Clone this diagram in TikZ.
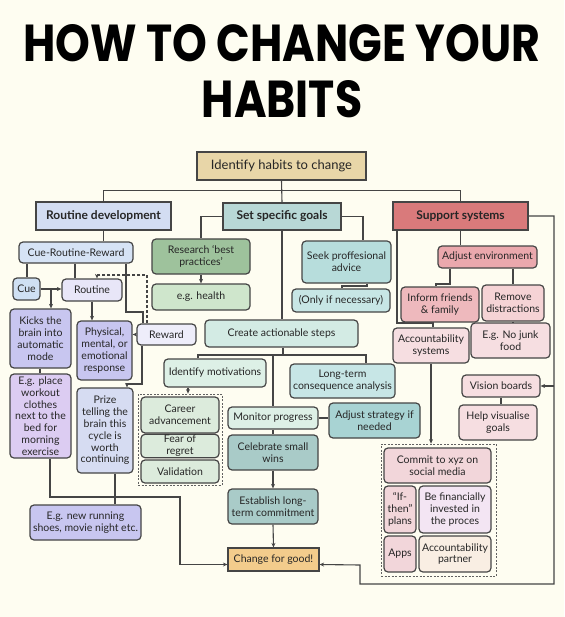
\documentclass[tikz,border=0pt]{standalone}
\usepackage{fontspec}
\setmainfont{Lato}
\newfontfamily\titlefont{Poppins}
\usetikzlibrary{arrows.meta,backgrounds}
\definecolor{bg}{HTML}{FEFDF1}
\definecolor{ln}{HTML}{454545}
\definecolor{cIdent}{HTML}{E8D6A8}
\definecolor{cRD}{HTML}{D3DDF2}
\definecolor{cSSG}{HTML}{B8D8D6}
\definecolor{cSup}{HTML}{D97A7B}
\definecolor{cCRR}{HTML}{D6E3F5}
\definecolor{cCue}{HTML}{CFE0F3}
\definecolor{cRoutine}{HTML}{E8E6F8}
\definecolor{cLav}{HTML}{C8C6F0}
\definecolor{cReward}{HTML}{EEEDFA}
\definecolor{cPrize}{HTML}{D6DCF2}
\definecolor{cPlace}{HTML}{DCCCF2}
\definecolor{cResearch}{HTML}{9EC29C}
\definecolor{cHealth}{HTML}{CFE6CC}
\definecolor{cSeek}{HTML}{B7DDDC}
\definecolor{cOnly}{HTML}{C7E6E5}
\definecolor{cCreate}{HTML}{D3EBE4}
\definecolor{cMint}{HTML}{DDF0E6}
\definecolor{cLong}{HTML}{C7E6E6}
\definecolor{cCareer}{HTML}{DCEBDC}
\definecolor{cAdjust}{HTML}{A8D3D3}
\definecolor{cCeleb}{HTML}{A9CBC8}
\definecolor{cChange}{HTML}{F3CC8C}
\definecolor{cAdjEnv}{HTML}{EAA8AD}
\definecolor{cInform}{HTML}{EEB9BD}
\definecolor{cRemove}{HTML}{F5D3D5}
\definecolor{cPinkL}{HTML}{F6DEE1}
\definecolor{cCommit}{HTML}{F2D6DA}
\definecolor{cFin}{HTML}{F3E5F3}
\definecolor{cPartner}{HTML}{F9EEE3}
\tikzset{
  box/.style={draw=ln, line width=1.2pt, rounded corners=4pt, align=center,
    inner sep=1pt, font=\fontsize{10.5}{11.8}\selectfont, text=black!85},
  hdr/.style={sharp corners, font=\bfseries\fontsize{12}{13}\selectfont},
  conn/.style={draw=ln, line width=1.1pt},
  arr/.style={conn, -{Stealth[length=4.5pt,width=4pt]}},
  grp/.style={draw=ln!85, line width=0.8pt, dash pattern=on 2pt off 1.5pt, rounded corners=0pt},
  ttl/.style={font=\titlefont\bfseries\fontsize{46}{50}\selectfont, anchor=base, inner sep=0pt}
}
\newcommand\bx[8][]{\node[box,fill=#7,minimum width={#5-#3},minimum height={#6-#4},#1] (#2) at ({(#3+#5)/2},{(#4+#6)/2}) {#8};}
\begin{document}
\begin{tikzpicture}[x=1pt,y=-1pt]
\useasboundingbox (0,0) rectangle (564,617);
% title
\node[ttl] (t1) at (282,62) {\scalebox{0.962}[1.13]{HOW TO CHANGE YOUR}};
\node[ttl] (t2) at (282,118) {\scalebox{0.962}[1.13]{HABITS}};
% headers
\bx[hdr]{ident}{197}{152}{366}{180}{cIdent}{\mdseries\fontsize{13}{14}\selectfont Identify habits to change}
\bx[hdr]{rd}{36}{202}{171}{230}{cRD}{Routine development}
\bx[hdr]{ssg}{223}{203}{341}{230}{cSSG}{Set specific goals}
\bx[hdr]{ss}{393}{202}{528}{230}{cSup}{Support systems}
% routine column
\bx{crr}{19}{242}{133}{263}{cCRR}{Cue-Routine-Reward}
\bx{cue}{13}{278}{40}{300}{cCue}{Cue}
\bx{routine}{62}{279}{122}{301}{cRoutine}{Routine}
\bx{kicks}{10}{309}{71}{368}{cLav}{Kicks the\\brain into\\automatic\\mode}
\bx{phys}{77}{321}{132}{380}{cLav}{Physical,\\mental, or\\emotional\\response}
\bx{reward}{137}{324}{196}{345}{cReward}{Reward}
\bx{place}{10}{374}{71}{458}{cPlace}{E.g. place\\workout\\clothes\\next to the\\bed for\\morning\\exercise}
\bx{prize}{77}{388}{133}{473}{cPrize}{Prize\\telling the\\brain this\\cycle is\\worth\\continuing}
\bx{run}{30}{505}{141}{540}{cLav}{E.g. new running\\shoes, movie night etc.}
% goals column
\bx{research}{152}{239}{250}{274}{cResearch}{Research ‘best\\practices’}
\bx{health}{152}{284}{250}{310}{cHealth}{e.g. health}
\bx{seek}{302}{241}{391}{283}{cSeek}{Seek proffesional\\advice}
\bx{only}{292}{289}{390}{312}{cOnly}{(Only if necessary)}
\bx{create}{205}{320}{358}{347}{cCreate}{Create actionable steps}
\bx{idmot}{164}{359}{266}{387}{cMint}{Identify motivations}
\bx{long}{290}{364}{395}{398}{cLong}{Long-term\\consequence analysis}
\node[grp, minimum width=84pt, minimum height=91pt] (grp1) at (180,439.5) {};
\bx{career}{141}{397}{219}{433}{cCareer}{Career\\advancement}
\bx{fear}{141}{435}{219}{457}{cCareer}{Fear of\\regret}
\bx{valid}{141}{460}{219}{483}{cCareer}{Validation}
\bx{monitor}{228}{407}{318}{429}{cMint}{Monitor progress}
\bx{adjust}{329}{403}{420}{438}{cAdjust}{Adjust strategy if\\needed}
\bx{celeb}{228}{435}{318}{470}{cCeleb}{Celebrate small\\wins}
\bx{estab}{228}{489}{318}{524}{cCeleb}{Establish long-\\term commitment}
\bx[hdr]{change}{228}{548}{319}{571}{cChange}{\mdseries\fontsize{10.5}{12}\selectfont Change for good!}
% support column
\bx{adjenv}{438}{246}{537}{268}{cAdjEnv}{Adjust environment}
\bx{inform}{401}{287}{479}{322}{cInform}{Inform friends\\\& family}
\bx{remove}{482}{285}{544}{321}{cRemove}{Remove\\distractions}
\bx{junk}{471}{323}{550}{358}{cPinkL}{E.g. No junk\\food}
\bx{accsys}{393}{328}{469}{363}{cPinkL}{Accountability\\systems}
\bx{vision}{462}{375}{540}{397}{cPinkL}{Vision boards}
\bx{help}{459}{405}{537}{440}{cPinkL}{Help visualise\\goals}
\node[grp, minimum width=115pt, minimum height=132pt] (grp2) at (438.5,510) {};
\bx{commit}{384}{448}{491}{483}{cCommit}{Commit to xyz on\\social media}
\bx{ifthen}{384}{486}{416}{533}{cCommit}{“If-\\then”\\plans}
\bx{fin}{419}{486}{491}{533}{cFin}{Be financially\\invested in\\the proces}
\bx{apps}{384}{536}{416}{572}{cCommit}{Apps}
\bx{partner}{419}{536}{491}{572}{cPartner}{Accountability\\partner}
\begin{pgfonlayer}{background}
\fill[bg] (0,0) rectangle (564,617);
% top
\draw[conn] (ident.south) -- (ssg.north);
\draw[conn] (rd.north) -- ++(0,-11) -| (ss.north);
% routine
\draw[conn] (rd.south) -- (rd.south |- crr.north);
\draw[conn] (27,0 |- crr.south) -- (27,0 |- cue.north);
\draw[conn] (75,0 |- crr.south) -- (75,0 |- routine.north);
\draw[arr] (cue.east) -- (cue.east -| routine.west);
\draw[arr] (51,0 |- cue.east) -- (51,0 |- kicks.north);
\draw[arr] (92,0 |- routine.south) -- (92,0 |- phys.north);
\draw[conn] (126,0 |- crr.south) |- (143,312) -- (143,0 |- reward.north);
\draw[arr, dash pattern=on 3pt off 2pt] (147,0 |- reward.north) |- (97,275) -- (97,0 |- routine.north);
\draw[arr] (reward.west) -- (reward.west -| phys.east);
\draw[arr] (142,0 |- reward.south) |- (127,384) -- (127,0 |- prize.north);
\draw[conn] (40,0 |- kicks.south) -- (40,0 |- place.north);
\draw[arr] (50,0 |- place.south) |- (180,497) |- ([yshift=-5pt]change.west);
\draw[conn] (115,0 |- prize.south) -- (115,0 |- run.north);
% goals
\draw[conn] (ssg.west) -| (research.north);
\draw[arr] (research.south) -- (health.north);
\draw[conn] (ssg.east) -| (363,0 |- seek.north);
\draw[conn] (367,0 |- seek.south) |- (342,286) -- (342,0 |- only.north);
\draw[conn] (ssg.south) -- (ssg.south |- create.north);
\draw[conn] (283,0 |- create.south) -- (283,355);
\draw[conn] (198,0 |- idmot.north) |- (366,355) -- (366,0 |- long.north);
\draw[conn] (monitor.north |- 0,355) -- (monitor.north);
\draw[arr] (188,0 |- idmot.south) -- (188,0 |- grp1.north);
\draw[conn] (monitor.east) -- (monitor.east -| adjust.west);
\draw[conn] (monitor.south) -- (celeb.north);
\draw[arr] (celeb.south) -- (estab.north);
\draw[arr] (estab.south) -- (change.north);
% support
\draw[conn] (ss.south) -- (ss.south |- adjenv.north);
\draw[conn] (450,0 |- adjenv.south) |- (436,284) -- (436,0 |- inform.north);
\draw[conn] (513,0 |- adjenv.south) -- (513,0 |- remove.north);
\draw[conn] (513,0 |- remove.south) -- (513,0 |- junk.north);
\draw[conn] (397,0 |- ss.south) |- (433,323) -- (433,0 |- accsys.north);
\draw[arr] (431,0 |- accsys.south) -- (431,0 |- grp2.north);
\draw[arr] (ss.east) -| (554,584) -| (360,565) -- ([yshift=-5pt]change.east);
\draw[arr] (554,0 |- vision.east) -- (vision.east);
\draw[conn] (501,0 |- vision.south) -- (501,0 |- help.north);
\end{pgfonlayer}
\end{tikzpicture}
\end{document}
